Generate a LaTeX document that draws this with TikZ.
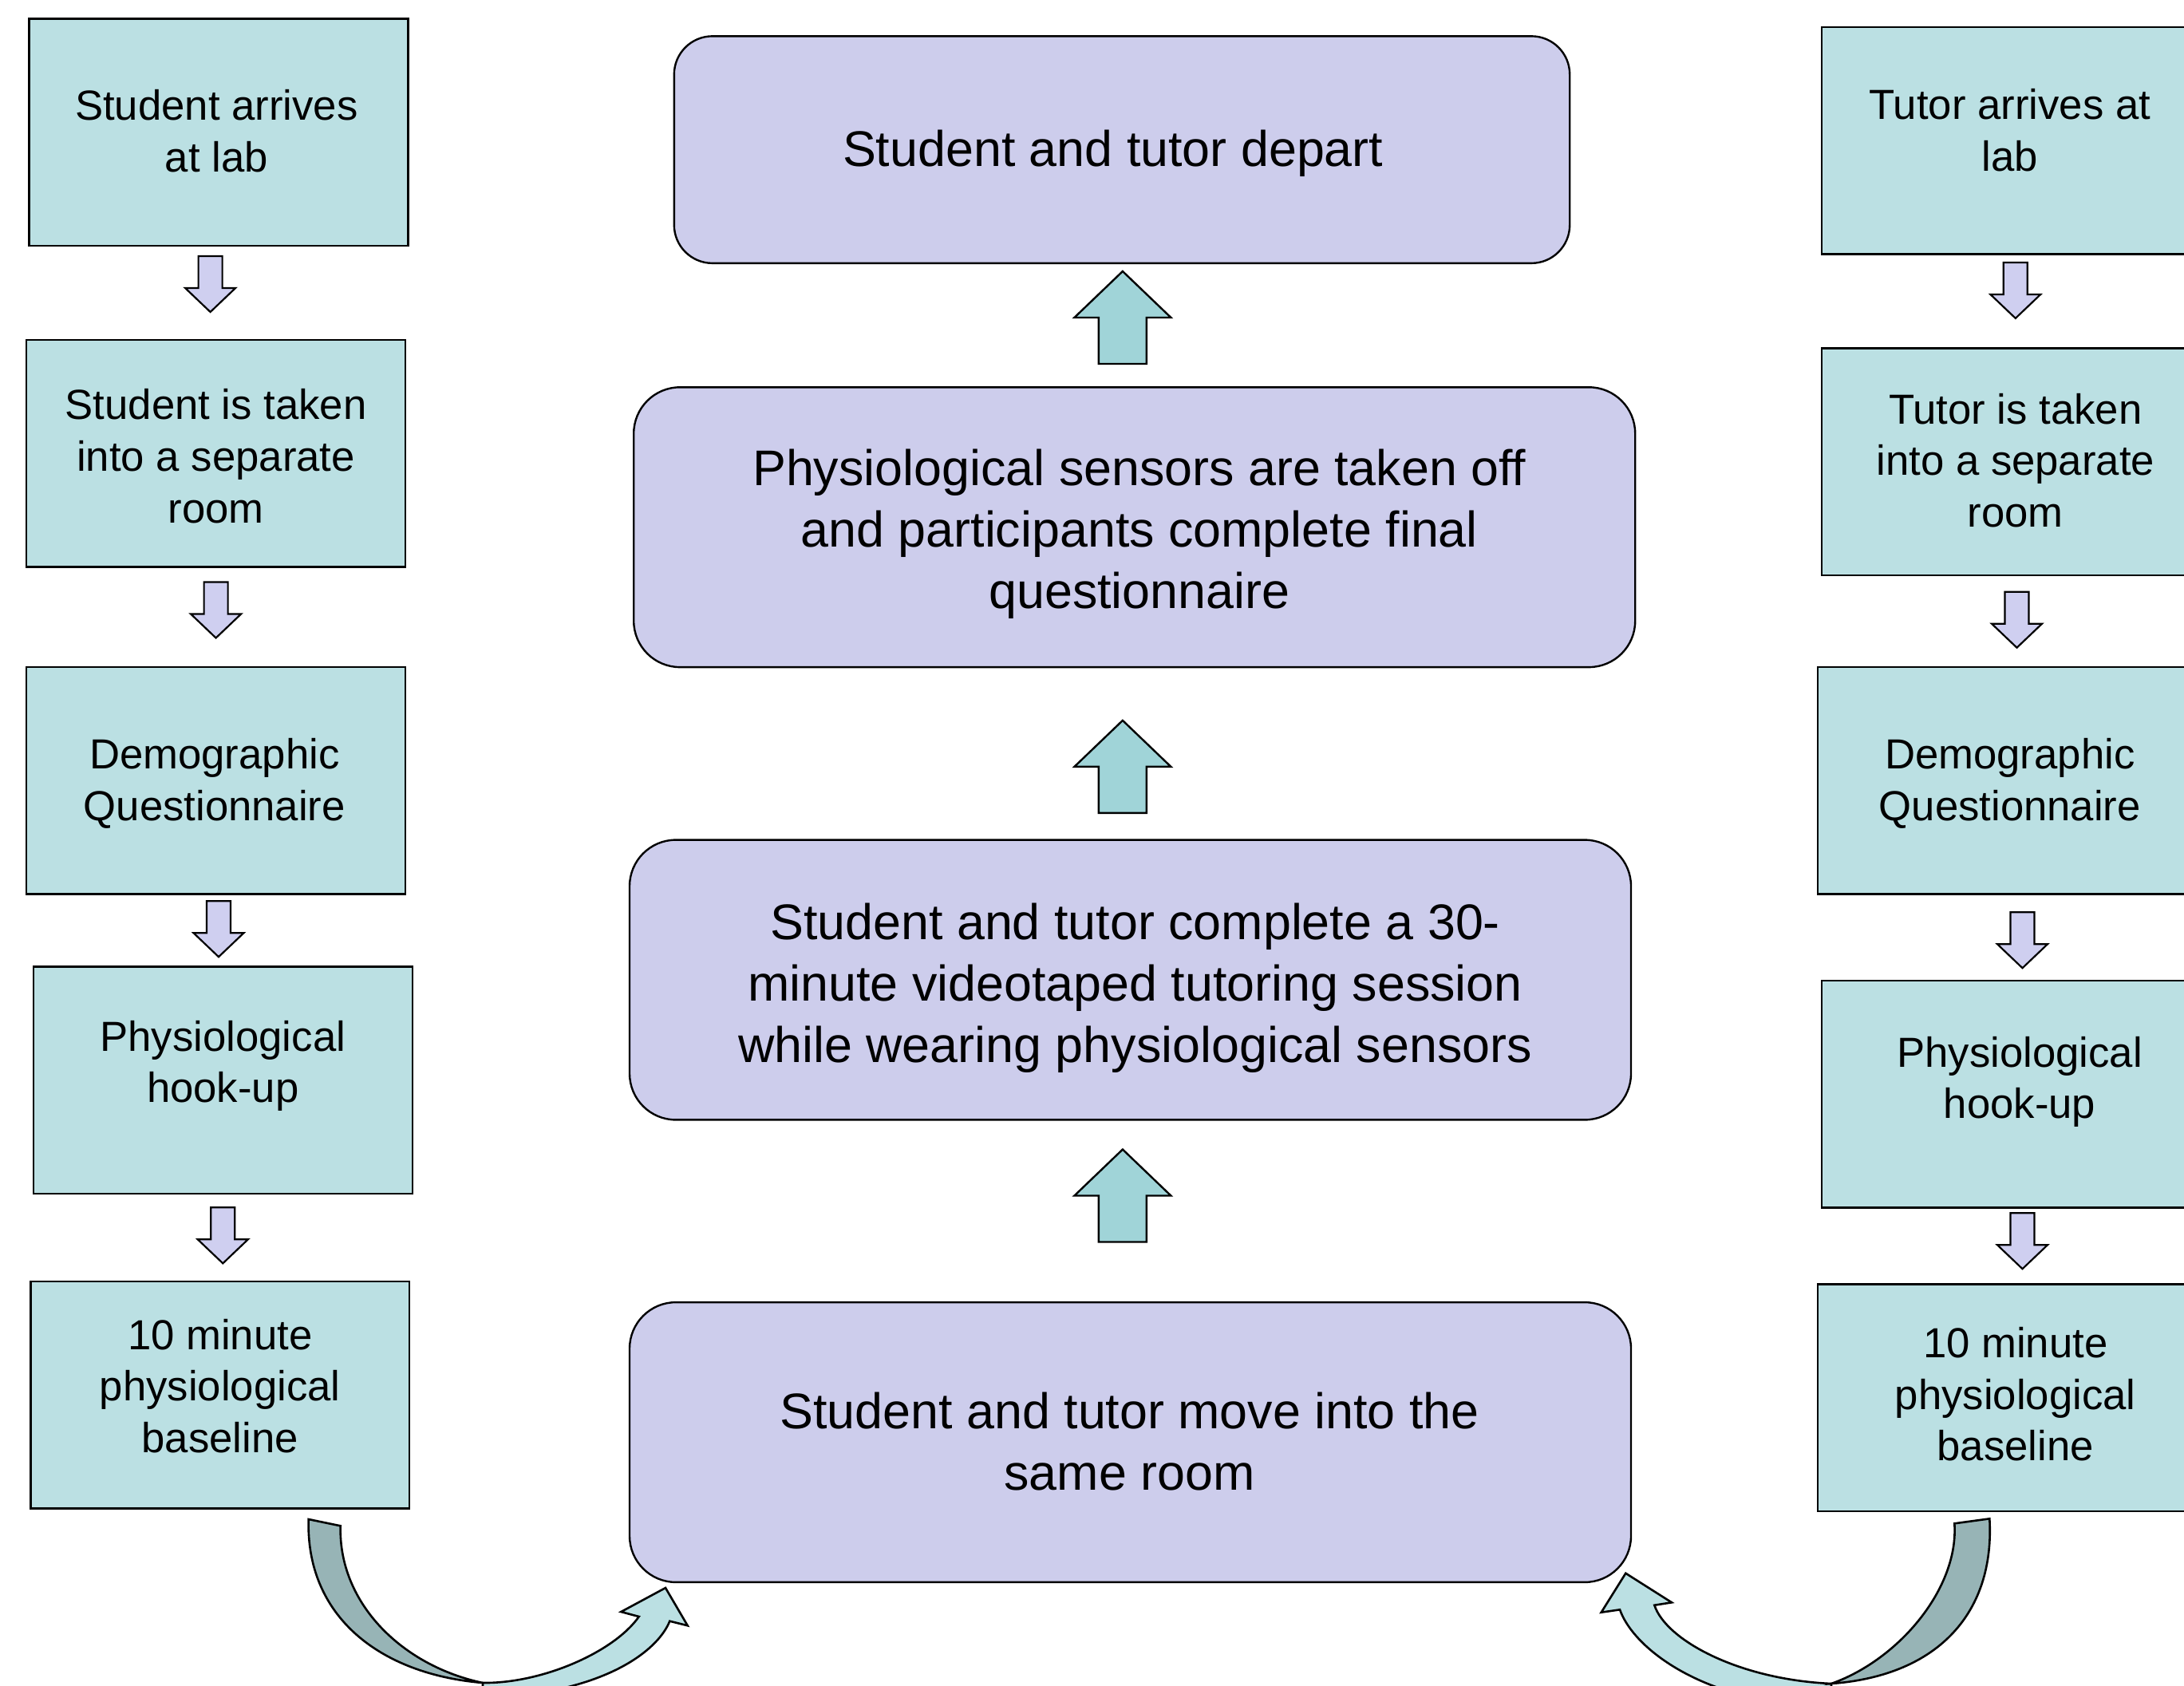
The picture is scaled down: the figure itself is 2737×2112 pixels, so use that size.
\documentclass[tikz,border=0pt]{standalone}
\usepackage{fontspec}
\setmainfont{Liberation Sans}
\definecolor{sidefill}{HTML}{BBE0E3}
\definecolor{midfill}{HTML}{CDCDEC}
\definecolor{smallarr}{HTML}{CFCFF0}
\definecolor{uparr}{HTML}{A0D4D8}
\definecolor{darkcurve}{HTML}{97B4B6}
\definecolor{lightcurve}{HTML}{BBE0E3}
\newcommand\downblk[1]{\draw[smallblk] (#1) -- ++(-31.5,-30) -- ++(16.5,0) -- ++(0,-40) -- ++(30,0) -- ++(0,40) -- ++(16.5,0) -- cycle;}
\newcommand\upblk[1]{\draw[bigblk] (#1) -- ++(-60.5,58) -- ++(30.5,0) -- ++(0,58) -- ++(60,0) -- ++(0,-58) -- ++(30.5,0) -- cycle;}
\begin{document}
\begin{tikzpicture}[x=1pt,y=-1pt,
  sidebox/.style={draw=black, line width=2.4pt, fill=sidefill, minimum width=474.8pt, minimum height=284.5pt, inner sep=0pt},
  midbox/.style={draw=black, line width=2.4pt, fill=midfill, rounded corners=58pt, minimum width=1255pt, minimum height=350.8pt, inner sep=0pt},
  sidetext/.style={align=center, font=\fontsize{52.7}{64.6}\selectfont, inner sep=0pt},
  midtext/.style={align=center, font=\fontsize{62.8}{76.8}\selectfont, inner sep=0pt},
  smallblk/.style={draw=black, line width=2.2pt, fill=smallarr, line join=miter},
  bigblk/.style={draw=black, line width=2.4pt, fill=uparr, line join=miter},
  curvedark/.style={draw=black, line width=2.6pt, fill=darkcurve, line join=miter},
  curvelight/.style={draw=black, line width=2.6pt, fill=lightcurve, line join=miter}
]
\useasboundingbox (0,0) rectangle (2737,2112);
\clip (0,0) rectangle (2737,2112);
\fill[white] (0,0) rectangle (2737,2112);

% left column
\node[sidebox] (l1) at (274.0,165.8) {};
\node[sidebox] (l2) at (270.6,568.2) {};
\node[sidebox] (l3) at (270.6,978.4) {};
\node[sidebox] (l4) at (279.3,1353.6) {};
\node[sidebox] (l5) at (275.8,1748.1) {};
\node[sidetext] (l1t) at (271.4,164.1) {Student arrives\\at lab};
\node[sidetext] (l2t) at (270.6,571.7) {Student is taken\\into a separate\\room};
\node[sidetext] (l3t) at (268.8,981.6) {Demographic\\Questionnaire};
\node[sidetext] (l4t) at (279.3,1336) {Physiological\\hook-up};
\node[sidetext] (l5t) at (275.8,1736.9) {10 minute\\physiological\\baseline};

% right column
\node[sidebox] (r1) at (2520.5,176.3) {};
\node[sidebox] (r2) at (2520.5,578.6) {};
\node[sidebox] (r3) at (2515.3,978.4) {};
\node[sidebox] (r4) at (2520.5,1371.1) {};
\node[sidebox] (r5) at (2515.3,1751.6) {};
\node[sidetext] (r1t) at (2518.8,163.3) {Tutor arrives at\\lab};
\node[sidetext] (r2t) at (2525.8,577) {Tutor is taken\\into a separate\\room};
\node[sidetext] (r3t) at (2518.8,981.6) {Demographic\\Questionnaire};
\node[sidetext] (r4t) at (2531,1356) {Physiological\\hook-up};
\node[sidetext] (r5t) at (2525.8,1747.4) {10 minute\\physiological\\baseline};

% middle column
\node[midbox, rounded corners=48pt, minimum width=1122.4pt, minimum height=284.5pt] (c1) at (1406,187.6) {};
\node[midbox] (c2) at (1421.7,660.7) {};
\node[midbox] (c3) at (1416.5,1228) {};
\node[midbox] (c4) at (1416.5,1807.5) {};
\node[midtext] (c1t) at (1394.7,191.8) {Student and tutor depart};
\node[midtext] (c2t) at (1427.8,669.4) {Physiological sensors are taken off\\and participants complete final\\questionnaire};
\node[midtext] (c3t) at (1422.6,1238.5) {Student and tutor complete a 30-\\minute videotaped tutoring session\\while wearing physiological sensors};
\node[midtext] (c4t) at (1415.6,1806.6) {Student and tutor move into the\\same room};

% small down arrows (tips)
\coordinate (a1) at (263.6,391);
\coordinate (a2) at (270.6,799.5);
\coordinate (a3) at (274.0,1199.2);
\coordinate (a4) at (279.3,1583.3);
\coordinate (b1) at (2525.8,398.9);
\coordinate (b2) at (2527.5,811.7);
\coordinate (b3) at (2534.5,1213.2);
\coordinate (b4) at (2534.5,1590.2);
\downblk{a1}\downblk{a2}\downblk{a3}\downblk{a4}
\downblk{b1}\downblk{b2}\downblk{b3}\downblk{b4}

% up arrows (tips)
\coordinate (u1) at (1406.9,340);
\coordinate (u2) at (1406.9,902.9);
\coordinate (u3) at (1406.9,1440.5);
\upblk{u1}\upblk{u2}\upblk{u3}

% left curved arrow
\draw[curvelight] (839.3,2031.7) -- (861.7,2037.3) -- (834,1990) -- (778.3,2020) -- (800.7,2026)
  .. controls (770,2070) and (680,2110) .. (605,2109) -- (605,2140) -- (650,2140) -- (650,2125)
  .. controls (770,2112) and (826,2065) .. (839.3,2031.7) -- cycle;
\draw[curvedark] (386.7,1904) .. controls (383,2025) and (475,2098) .. (605,2109)
  .. controls (505,2088) and (424,2010) .. (426.7,1912.3) -- cycle;

% right curved arrow
\draw[curvelight] (2030,2017.3) -- (2006.7,2020.7) -- (2037.3,1971.7) -- (2095,2008.3) -- (2073.3,2011.7)
  .. controls (2088,2056) and (2180,2105) .. (2295,2110) -- (2295,2140) -- (2200,2140) -- (2200,2128)
  .. controls (2110,2110) and (2045,2060) .. (2030,2017.3) -- cycle;
\draw[curvedark] (2493.3,1903.3) .. controls (2500,2020) and (2430,2100) .. (2295,2110)
  .. controls (2380,2080) and (2455,1990) .. (2449.3,1909.3) -- cycle;
\end{tikzpicture}
\end{document}
